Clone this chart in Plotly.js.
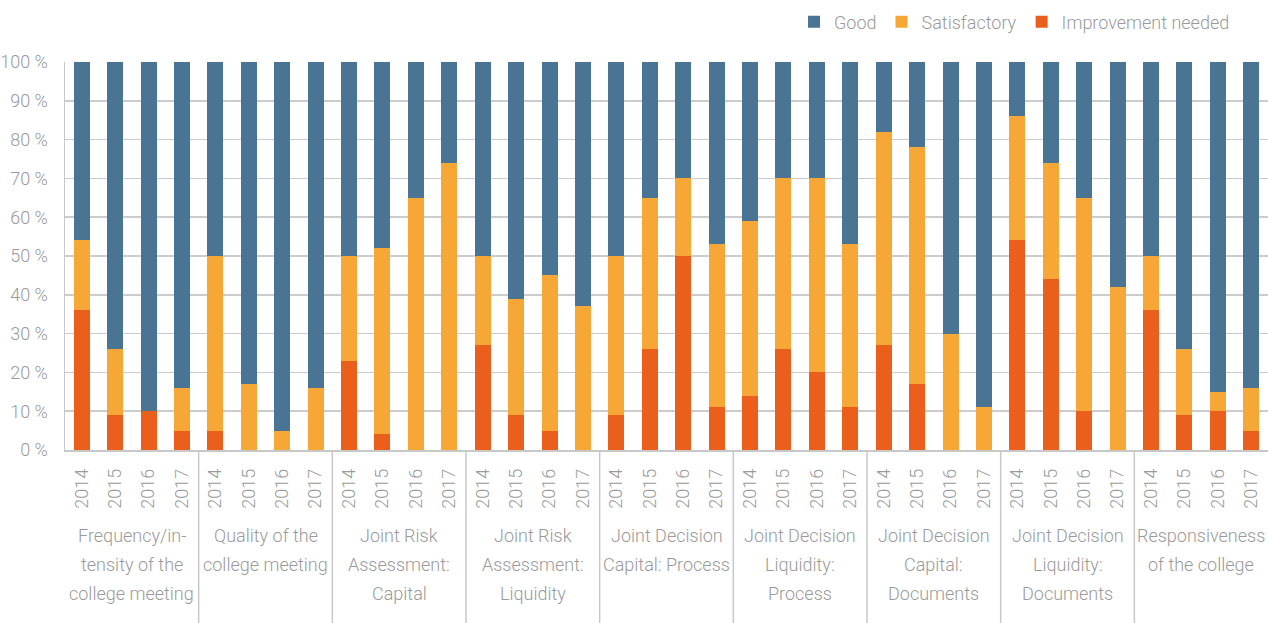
<!DOCTYPE html>
<html><head><meta charset="utf-8">
<script src="https://cdn.plot.ly/plotly-3.0.1.min.js"></script>
<style>html,body{margin:0;padding:0;background:#fff;}#chart{width:1268px;height:623px;}</style>
</head><body><div id="chart"></div>
<script>
const groups = [
  "Frequency/in-<br>tensity of the<br>college meeting",
  "Quality of the<br>college meeting",
  "Joint Risk<br>Assessment:<br>Capital",
  "Joint Risk<br>Assessment:<br>Liquidity",
  "Joint Decision<br>Capital: Process",
  "Joint Decision<br>Liquidity:<br>Process",
  "Joint Decision<br>Capital:<br>Documents",
  "Joint Decision<br>Liquidity:<br>Documents",
  "Responsiveness<br>of the college"
];
const years = ["2014","2015","2016","2017"];
const yTickVals = [0,10,20,30,40,50,60,70,80,90,100];
const yTickText = ["0 %","10 %","20 %","30 %","40 %","50 %","60 %","70 %","80 %","90 %","100 %"];
// Improvement needed (bottom segment), %
const improvement = [36,9,10,5, 5,0,0,0, 23,4,0,0, 27,9,5,0, 9,26,50,11, 14,26,20,11, 27,17,0,0, 54,44,10,0, 36,9,10,5];
// Satisfactory (middle segment), %
const satisfactory = [18,17,0,11, 45,17,5,16, 27,48,65,74, 23,30,40,37, 41,39,20,42, 45,44,50,42, 55,61,30,11, 32,30,55,42, 14,17,5,11];
// Good (top segment), %
const good = [46,74,90,84, 50,83,95,84, 50,48,35,26, 50,61,55,63, 50,35,30,47, 41,30,30,47, 18,22,70,89, 14,26,35,58, 50,74,85,84];

const xs = [], tt = [];
groups.forEach((g,gi)=>years.forEach((y,yi)=>{xs.push(gi*years.length+yi); tt.push(y);}));

const FONT = 'Roboto, sans-serif';
const GRAY = '#9a9a9a';
const PLOT_H = 388;
const traces = [
  {name:'Improvement needed', y:improvement, color:'#ea5f1b'},
  {name:'Satisfactory', y:satisfactory, color:'#f6a735'},
  {name:'Good', y:good, color:'#4a7493'}
].map(s=>({type:'bar', x:xs, y:s.y, name:s.name, marker:{color:s.color, line:{width:0}}, hoverinfo:'skip'}));

const n = years.length;
const shapes = [];
for (let g=1; g<groups.length; g++) {
  shapes.push({type:'line', xref:'x', yref:'paper', x0:g*n-0.5, x1:g*n-0.5, y0:0, y1:-0.46, line:{color:'#c8c8c8', width:1.5}});
}
const annotations = [];
groups.forEach((g,gi)=>{
  g.split('<br>').forEach((line,k)=>{
    annotations.push({
      text:line, x:gi*n+(n-1)/2, xref:'x', y:-(85+29*k)/PLOT_H, yref:'paper', yanchor:'middle', xanchor:'center',
      showarrow:false, align:'center', font:{family:FONT, size:18, weight:300, color:GRAY}
    });
  });
});

const layout = {
  width:1268, height:623,
  margin:{l:65, r:0, t:62, b:173},
  barmode:'stack', bargap:0.52,
  paper_bgcolor:'#fff', plot_bgcolor:'#fff',
  font:{family:FONT, color:GRAY, weight:300},
  showlegend:true,
  legend:{orientation:'h', traceorder:'reversed', x:0.606, xanchor:'left', y:1.103, yanchor:'middle',
          font:{family:FONT, size:18, weight:300, color:GRAY}, itemwidth:30},
  xaxis:{range:[-0.5, xs.length-0.5], tickvals:xs, ticktext:tt, tickangle:-90, showgrid:false, zeroline:false,
         showline:true, linecolor:'#c8c8c8', linewidth:1.5, ticks:'', ticklabelstandoff:10,
         tickfont:{family:FONT, size:18, weight:300, color:GRAY}, fixedrange:true},
  yaxis:{range:[0,100], tickvals:yTickVals, ticktext:yTickText, showgrid:true,
         gridcolor:'#cccccc', gridwidth:1.5, zeroline:false, showline:true, linecolor:'#c8c8c8', linewidth:1.5,
         ticks:'', ticklabelstandoff:12, tickfont:{family:FONT, size:18, weight:300, color:GRAY}, fixedrange:true},
  shapes:shapes, annotations:annotations
};
Plotly.newPlot('chart', traces, layout, {displayModeBar:false, staticPlot:true});
</script></body></html>
